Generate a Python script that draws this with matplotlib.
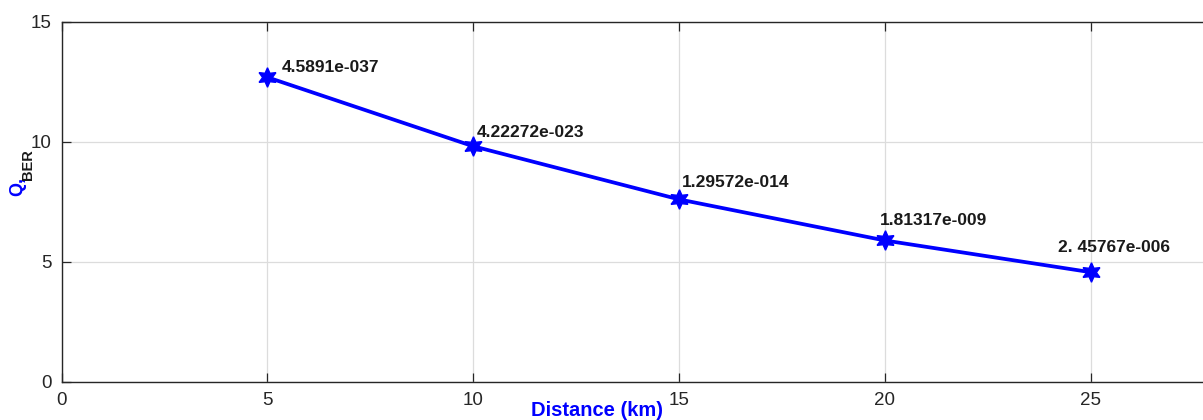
import matplotlib
matplotlib.use("Agg")
import matplotlib.pyplot as plt

distance_km = [5, 10, 15, 20, 25]
q_factor = [12.68, 9.81, 7.60, 5.89, 4.57]
ber_labels = ["4.5891e-037", "4.22272e-023", "1.29572e-014", "1.81317e-009", "2. 45767e-006"]
x_ticks = [0, 5, 10, 15, 20, 25]
y_ticks = [0, 5, 10, 15]

# label offsets in pixels (dx, dy) from each point
label_offsets = [(14, 10), (4, 14), (3, 17), (-5, 20), (-33, 25)]

W, H = 1203, 420
fig = plt.figure(figsize=(W / 100, H / 100), dpi=100)
fig.patch.set_facecolor("white")
plt.rcParams['font.family'] = ['Liberation Sans', 'DejaVu Sans']

left, right, top, bottom = 61.5, 61.5 + 30 * 41.16, 21.5, 382
ax = fig.add_axes([left / W, 1 - bottom / H, (right - left) / W, (bottom - top) / H])
ax.set_xlim(0, 30)
ax.set_ylim(0, 15)
ax.set_xticks(x_ticks)
ax.set_yticks(y_ticks)
ax.grid(True, color="#dcdcdc", linewidth=0.9)
ax.set_axisbelow(True)
for s in ax.spines.values():
    s.set_color("#262626")
    s.set_linewidth(1.0)
ax.tick_params(direction="in", length=6.5, width=0.9, color="#262626",
               labelsize=13.5, labelcolor="#262626", top=True, right=True, pad=7)

ax.plot(distance_km, q_factor, color="#0000ff", linewidth=2.7,
        marker=(6, 1, 0), markersize=14, markerfacecolor="#0000ff",
        markeredgecolor="#0000ff", clip_on=False, zorder=3)

for x, y, lab, (dx, dy) in zip(distance_km, q_factor, ber_labels, label_offsets):
    ax.annotate(lab, (x, y), xytext=(dx, dy), textcoords="offset pixels",
                ha="left", va="center", fontsize=12.5, fontweight="bold", color="#1a1a1a")

# axis labels
fig.text(597 / W, 1 - 410 / H, "Distance (km)", ha="center", va="center",
         fontsize=14.5, fontweight="bold", color="#0000ff")
fig.text(18 / W, 1 - 186 / H, "Q,", ha="center", va="center", rotation=90,
         fontsize=13, fontweight="bold", color="#0000ff")
fig.text(28 / W, 1 - 165 / H, "BER", ha="center", va="center", rotation=90,
         fontsize=10.5, fontweight="bold", color="#1a1a1a")

fig.savefig("out.png", dpi=100)
